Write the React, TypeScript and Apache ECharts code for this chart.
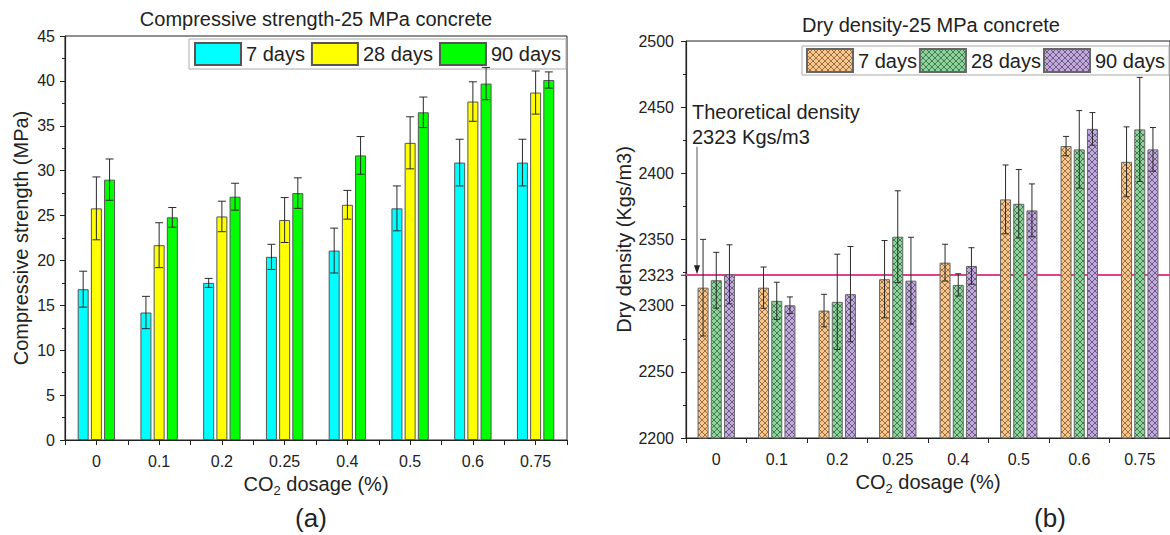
import React, { useEffect, useRef } from 'react';
import * as echarts from 'echarts';

const categories = ['0', '0.1', '0.2', '0.25', '0.4', '0.5', '0.6', '0.75'];
const ageLabels = ['7 days', '28 days', '90 days'];

// Compressive strength (MPa)
const strength7 = [16.8, 14.2, 17.5, 20.4, 21.1, 25.8, 30.9, 30.9];
const strength7Err = [2.0, 1.8, 0.5, 1.4, 2.5, 2.5, 2.6, 2.6];
const strength28 = [25.8, 21.7, 24.9, 24.5, 26.2, 33.1, 37.7, 38.7];
const strength28Err = [3.5, 2.5, 1.7, 2.5, 1.6, 2.9, 2.2, 2.4];
const strength90 = [29.0, 24.8, 27.1, 27.5, 31.7, 36.5, 39.7, 40.1];
const strength90Err = [2.3, 1.1, 1.5, 1.7, 2.1, 1.7, 1.8, 0.9];

// Dry density (Kgs/m3)
const density7 = [2313.6, 2313.6, 2296.3, 2320.0, 2332.5, 2380.3, 2420.6, 2408.7];
const density7Err = [36.5, 15.6, 12.3, 29.2, 13.9, 26.0, 7.3, 26.4];
const density28 = [2319.2, 2303.6, 2302.9, 2352.1, 2315.7, 2377.0, 2418.1, 2433.2];
const density28Err = [21.1, 14.1, 36.0, 34.7, 8.4, 25.9, 29.3, 39.3];
const density90 = [2323.7, 2300.3, 2308.7, 2318.9, 2330.0, 2372.0, 2433.6, 2418.1];
const density90Err = [22.3, 6.3, 36.0, 32.8, 13.8, 20.0, 12.3, 16.5];

const theoreticalDensity = 2323;

const FONT = 'Liberation Sans, Arial, Helvetica, sans-serif';
const TXT = '#222';
const BAR_W = 11;
const BAR_GAP = 0.2;

function makePattern(base: string, line: string) {
  const s = 6;
  const c = document.createElement('canvas');
  c.width = s;
  c.height = s;
  const ctx = c.getContext('2d') as CanvasRenderingContext2D;
  ctx.fillStyle = base;
  ctx.fillRect(0, 0, s, s);
  ctx.strokeStyle = line;
  ctx.lineWidth = 0.9;
  ctx.beginPath();
  ctx.moveTo(0, 0);
  ctx.lineTo(s, s);
  ctx.moveTo(s, 0);
  ctx.lineTo(0, s);
  ctx.stroke();
  return { image: c, repeat: 'repeat', imageWidth: s, imageHeight: s };
}

function errData(vals: number[], errs: number[]) {
  return vals.map((v, i) => [i, v - errs[i], v + errs[i]]);
}

function errSeries(name: string, xi: number, yi: number, vals: number[], errs: number[], k: number, capHalf: number) {
  const offset = (k - 1) * BAR_W * (1 + BAR_GAP);
  return {
    type: 'custom',
    name,
    xAxisIndex: xi,
    yAxisIndex: yi,
    z: 5,
    encode: { x: 0, y: [1, 2] },
    data: errData(vals, errs),
    renderItem: (params: any, api: any) => {
      const i = api.value(0);
      const lo = api.coord([i, api.value(1)]);
      const hi = api.coord([i, api.value(2)]);
      const x = lo[0] + offset;
      const style = { stroke: '#2a2a2a', lineWidth: 1 };
      return {
        type: 'group',
        children: [
          { type: 'line', shape: { x1: x, y1: hi[1], x2: x, y2: lo[1] }, style },
          { type: 'line', shape: { x1: x - capHalf, y1: hi[1], x2: x + capHalf, y2: hi[1] }, style },
          { type: 'line', shape: { x1: x - capHalf, y1: lo[1], x2: x + capHalf, y2: lo[1] }, style },
        ],
      };
    },
  };
}

const axisLineStyle = { color: TXT, width: 1.2 };

export default function App() {
  const ref = useRef<HTMLDivElement>(null);
  useEffect(() => {
    if (!ref.current) return;
    const chart = echarts.init(ref.current, undefined, { renderer: 'svg' });

    const leftColors = ['#00FFFF', '#FFFF00', '#00FF00'];
    const rightPatterns = [
      makePattern('#F7C68C', 'rgba(110,70,30,0.75)'),
      makePattern('#8FD39C', 'rgba(30,80,40,0.75)'),
      makePattern('#BFAADB', 'rgba(70,50,90,0.75)'),
    ];
    const leftVals = [strength7, strength28, strength90];
    const leftErrs = [strength7Err, strength28Err, strength90Err];
    const rightVals = [density7, density28, density90];
    const rightErrs = [density7Err, density28Err, density90Err];
    const rightNames = ['d7', 'd28', 'd90'];

    const xAxisCommon = {
      type: 'category',
      data: categories,
      boundaryGap: true,
      axisLine: { show: true, lineStyle: axisLineStyle },
      axisTick: { show: true, length: 5, lineStyle: { color: TXT } },
      axisLabel: { fontSize: 16, color: TXT, margin: 13, fontFamily: FONT },
      splitLine: { show: false },
      name: '{a|CO}{b|2}{a| dosage (%)}',
      nameLocation: 'middle',
      nameTextStyle: {
        rich: {
          a: { fontSize: 20, color: TXT, fontFamily: FONT, lineHeight: 26, verticalAlign: 'middle' },
          b: { fontSize: 13, color: TXT, fontFamily: FONT, lineHeight: 26, verticalAlign: 'bottom' },
        },
      },
    };

    const series: any[] = [];
    for (let k = 0; k < 3; k++) {
      series.push({
        type: 'bar',
        name: ageLabels[k],
        xAxisIndex: 0,
        yAxisIndex: 0,
        barWidth: BAR_W,
        barGap: BAR_GAP * 100 + '%',
        data: leftVals[k],
        itemStyle: { color: leftColors[k], borderColor: '#555', borderWidth: 1 },
      });
    }
    for (let k = 0; k < 3; k++) {
      series.push(errSeries('errL' + k, 0, 0, leftVals[k], leftErrs[k], k, 4));
    }
    for (let k = 0; k < 3; k++) {
      const s: any = {
        type: 'bar',
        name: rightNames[k],
        xAxisIndex: 2,
        yAxisIndex: 1,
        barWidth: BAR_W,
        barGap: BAR_GAP * 100 + '%',
        z: 2,
        data: rightVals[k],
        itemStyle: { color: rightPatterns[k], borderColor: '#666', borderWidth: 1 },
      };
      if (k === 0) {
        s.markLine = {
          silent: true,
          z: 1,
          symbol: ['none', 'none'],
          lineStyle: { color: '#E0408C', width: 2, type: 'solid' },
          label: { show: false },
          data: [{ yAxis: theoreticalDensity }],
        };
      }
      series.push(s);
    }
    for (let k = 0; k < 3; k++) {
      series.push(errSeries('errR' + k, 2, 1, rightVals[k], rightErrs[k], k, 3));
    }

    const legendCommon = {
      orient: 'horizontal',
      icon: 'rect',
      itemWidth: 46,
      borderColor: '#aaa',
      borderWidth: 1,
      backgroundColor: '#fff',
      selectedMode: false,
      textStyle: { fontSize: 20, color: TXT, fontFamily: FONT },
    };

    chart.setOption({
      animation: false,
      backgroundColor: '#fff',
      textStyle: { fontFamily: FONT },
      grid: [
        { left: 65, top: 36, width: 502, height: 404, show: true, borderColor: TXT, borderWidth: 1, backgroundColor: 'transparent' },
        { left: 686, top: 41, width: 493, height: 397, show: true, borderColor: TXT, borderWidth: 1, backgroundColor: 'transparent' },
      ],
      legend: [
        {
          ...legendCommon,
          left: 189,
          top: 39,
          itemHeight: 22,
          itemGap: 6,
          padding: [3, 5, 3, 5],
          data: ageLabels,
        },
        {
          ...legendCommon,
          left: 802,
          top: 46,
          itemHeight: 23,
          itemGap: 2,
          padding: [2, 4, 2, 4],
          data: rightNames,
          formatter: (n: string) => ageLabels[rightNames.indexOf(n)],
        },
      ],
      xAxis: [
        { ...xAxisCommon, gridIndex: 0, nameGap: 29 },
        {
          type: 'category',
          gridIndex: 0,
          position: 'bottom',
          data: categories,
          axisLine: { show: false },
          axisLabel: { show: false },
          axisTick: { show: true, alignWithLabel: true, length: 5, lineStyle: { color: TXT } },
          splitLine: { show: false },
        },
        { ...xAxisCommon, gridIndex: 1, nameGap: 28 },
      ],
      yAxis: [
        {
          gridIndex: 0,
          type: 'value',
          min: 0,
          max: 45,
          interval: 5,
          axisLine: { show: true, lineStyle: axisLineStyle },
          axisTick: { show: true, length: 5, lineStyle: { color: TXT } },
          minorTick: { show: true, splitNumber: 2, length: 3, lineStyle: { color: TXT } },
          splitLine: { show: false },
          axisLabel: { fontSize: 16, color: TXT, margin: 10, fontFamily: FONT },
          name: 'Compressive strength (MPa)',
          nameLocation: 'middle',
          nameGap: 34,
          nameTextStyle: { fontSize: 20, color: TXT, fontFamily: FONT },
        },
        {
          gridIndex: 1,
          type: 'value',
          min: 2200,
          max: 2500,
          interval: 50,
          axisLine: { show: true, lineStyle: axisLineStyle },
          axisTick: { show: true, length: 5, lineStyle: { color: TXT } },
          minorTick: { show: true, splitNumber: 2, length: 3, lineStyle: { color: TXT } },
          splitLine: { show: false },
          axisLabel: { fontSize: 16, color: TXT, margin: 12, fontFamily: FONT, formatter: (v: number) => String(v) },
          name: 'Dry density (Kgs/m3)',
          nameLocation: 'middle',
          nameGap: 52,
          nameTextStyle: { fontSize: 20, color: TXT, fontFamily: FONT },
        },
      ],
      series,
    });

    const yTop = chart.convertToPixel({ yAxisIndex: 1 }, 2420) as number;
    const yRef = chart.convertToPixel({ yAxisIndex: 1 }, theoreticalDensity) as number;
    const ax = 697;
    const axisX = 686;

    chart.setOption({
      graphic: [
        {
          type: 'text',
          x: 316,
          y: 19,
          style: { text: 'Compressive strength-25 MPa concrete', fontSize: 20, fill: TXT, fontFamily: FONT, textAlign: 'center', textVerticalAlign: 'middle' },
        },
        {
          type: 'text',
          x: 931,
          y: 25,
          style: { text: 'Dry density-25 MPa concrete', fontSize: 20, fill: TXT, fontFamily: FONT, textAlign: 'center', textVerticalAlign: 'middle' },
        },
        {
          type: 'text',
          x: 311,
          y: 518,
          style: { text: '(a)', fontSize: 26, fill: TXT, fontFamily: FONT, textAlign: 'center', textVerticalAlign: 'middle' },
        },
        {
          type: 'text',
          x: 1050,
          y: 518,
          style: { text: '(b)', fontSize: 26, fill: TXT, fontFamily: FONT, textAlign: 'center', textVerticalAlign: 'middle' },
        },
        {
          type: 'text',
          x: 692,
          y: 112,
          style: { text: 'Theoretical density', fontSize: 20, fill: TXT, fontFamily: FONT, textAlign: 'left', textVerticalAlign: 'middle' },
        },
        {
          type: 'text',
          x: 692,
          y: 137,
          style: { text: '2323 Kgs/m3', fontSize: 20, fill: TXT, fontFamily: FONT, textAlign: 'left', textVerticalAlign: 'middle' },
        },
        {
          type: 'text',
          x: axisX - 12,
          y: yRef,
          style: { text: String(theoreticalDensity), fontSize: 16, fill: TXT, fontFamily: FONT, textAlign: 'right', textVerticalAlign: 'middle' },
        },
        {
          type: 'line',
          shape: { x1: axisX - 5, y1: yRef, x2: axisX, y2: yRef },
          style: { stroke: TXT, lineWidth: 1 },
        },
        {
          type: 'line',
          shape: { x1: ax, y1: yTop, x2: ax, y2: yRef - 8 },
          style: { stroke: '#555', lineWidth: 1 },
          z: 10,
        },
        {
          type: 'polygon',
          shape: { points: [[ax - 3, yRef - 10], [ax + 3, yRef - 10], [ax, yRef - 1]] },
          style: { fill: '#222' },
          z: 10,
        },
      ],
    });

    return () => chart.dispose();
  }, []);

  return <div ref={ref} style={{ position: 'absolute', left: 0, top: 0, width: 1170, height: 535 }} />;
}
